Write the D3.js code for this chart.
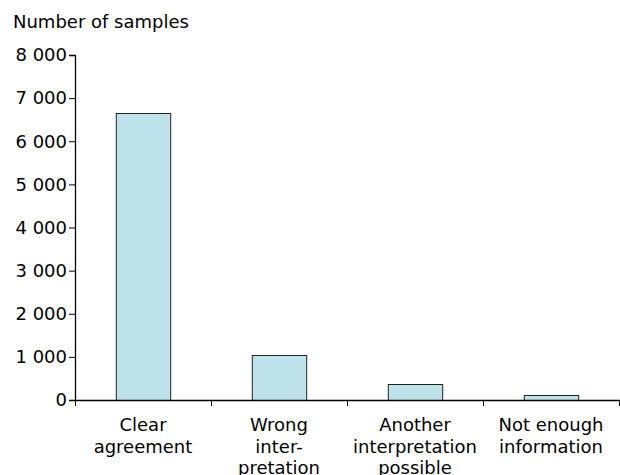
<!DOCTYPE html>
<html>
<head>
<meta charset="utf-8">
<script src="https://cdn.jsdelivr.net/npm/d3@7/dist/d3.min.js"></script>
<style>
html,body{margin:0;padding:0;background:#fff;}
svg{display:block;font-family:"DejaVu Sans",Verdana,sans-serif;}
</style>
</head>
<body>
<script>
const categories = [
  ["Clear", "agreement"],
  ["Wrong", "inter-", "pretation"],
  ["Another", "interpretation", "possible"],
  ["Not enough", "information"]
];
const values = [6650, 1050, 370, 105];
const yTicks = [0, 1000, 2000, 3000, 4000, 5000, 6000, 7000, 8000];
const yTitle = "Number of samples";

const W = 620, H = 475;
const m = {left: 75, right: 1, top: 55, bottom: 75};
const svg = d3.select("body").append("svg").attr("width", W).attr("height", H);

const x = d3.scaleBand().domain(d3.range(categories.length))
  .range([m.left, W - m.right]).paddingInner(0).paddingOuter(0);
const y = d3.scaleLinear().domain([0, 8000]).range([H - m.bottom, m.top]);

const fmt = v => d3.format(",")(v).replace(/,/g, " ");

// bars
svg.append("g").selectAll("rect").data(values).join("rect")
  .attr("x", (d, i) => x(i) + x.bandwidth() * 0.3 + 0.5)
  .attr("width", x.bandwidth() * 0.4)
  .attr("y", d => Math.round(y(d)) + 0.5)
  .attr("height", d => y(0) - Math.round(y(d)))
  .attr("fill", "#bee2e9")
  .attr("stroke", "#222")
  .attr("stroke-width", 1);

// y axis
const ya = svg.append("g").attr("transform", `translate(${m.left},0)`)
  .call(d3.axisLeft(y).tickValues(yTicks).tickFormat(fmt).tickSize(6).tickPadding(2));
ya.select(".domain").attr("stroke", "#000").attr("stroke-width", 1.3);
ya.selectAll(".tick line").attr("stroke", "#000");
ya.selectAll(".tick text").attr("font-size", 18).attr("fill", "#000")
  .attr("font-family", "DejaVu Sans, Verdana, sans-serif");

// x axis
const xEdge = d3.scaleLinear().domain([0, categories.length]).range([m.left, W - m.right]);
const xa = svg.append("g").attr("transform", `translate(0,${H - m.bottom})`)
  .call(d3.axisBottom(xEdge).tickValues(d3.range(categories.length + 1)).tickFormat("").tickSize(6).tickSizeOuter(0));
xa.select(".domain").attr("stroke", "#000").attr("stroke-width", 1.3);
xa.selectAll(".tick line").attr("stroke", "#000");

// category labels
const lab = svg.append("g").selectAll("text").data(categories).join("text")
  .attr("x", (d, i) => x(i) + x.bandwidth() / 2)
  .attr("y", H - m.bottom + 31)
  .attr("text-anchor", "middle")
  .attr("font-size", 18)
  .attr("fill", "#000");
lab.selectAll("tspan").data(d => d).join("tspan")
  .attr("x", function() { return this.parentNode.getAttribute("x"); })
  .attr("dy", (d, i) => i === 0 ? 0 : 21.7)
  .text(d => d);

// title
svg.append("text").attr("x", 13).attr("y", 28).attr("font-size", 18)
  .attr("fill", "#000").text(yTitle);
</script>
</body>
</html>
